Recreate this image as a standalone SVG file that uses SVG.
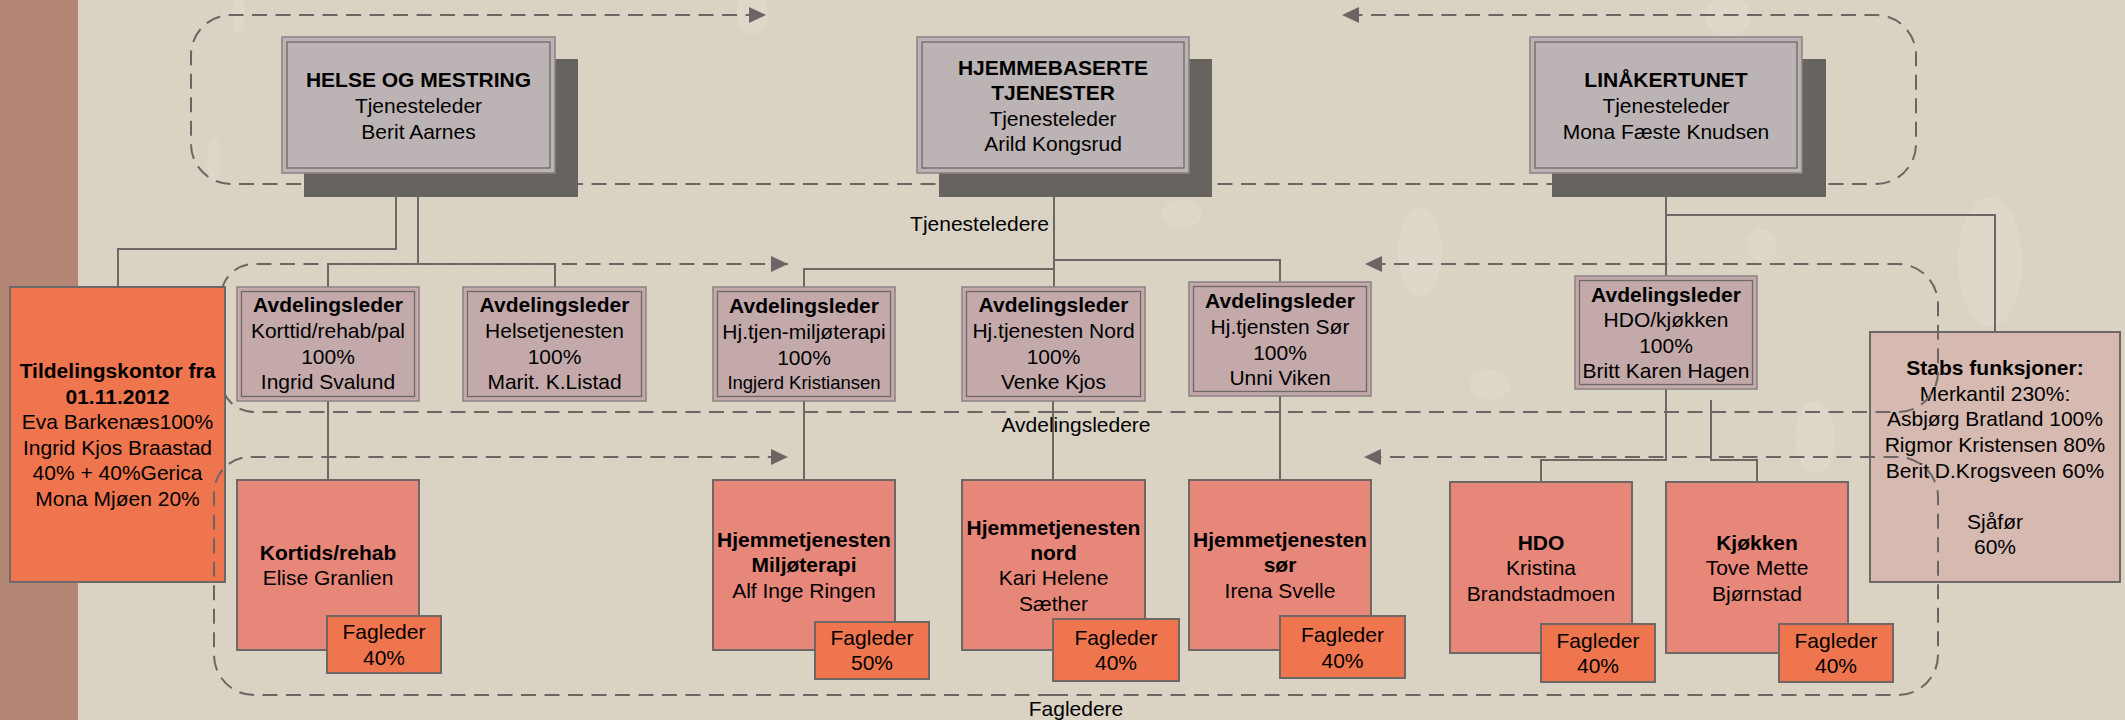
<svg xmlns="http://www.w3.org/2000/svg" width="2125" height="720" viewBox="0 0 2125 720">
<defs>
<style>
.t{font-family:"Liberation Sans",Arial,sans-serif;font-size:21px;text-anchor:middle;fill:#000}
.b{font-weight:bold}
.sm{font-size:18.5px}
.dash{fill:none;stroke:#6b6664;stroke-width:2;stroke-dasharray:15 8.5}
.con{fill:none;stroke:#6d6866;stroke-width:2}
.shadow{fill:#676361}
.topbox{fill:#bcb4b4;stroke:#8a8383;stroke-width:1.5}
.avdbox{fill:#c3a9a9;stroke:#8a8383;stroke-width:1.5}
.inner{fill:none;stroke:#6e6868;stroke-width:1.3}
.unit{fill:#e7877a;stroke:#6d6866;stroke-width:2}
.fag{fill:#ef754e;stroke:#6d6866;stroke-width:2}
.drop{fill:#efeae0;opacity:0.22}
</style>
<marker id="arr" markerUnits="userSpaceOnUse" markerWidth="18" markerHeight="17" refX="17" refY="8" orient="auto" viewBox="0 0 18 17">
<path d="M0,0 L17,8 L0,16 z" fill="#6b6664"/>
</marker>
</defs>

<rect x="0" y="0" width="2125" height="720" fill="#dad3c4"/>
<rect x="0" y="0" width="78" height="720" fill="#b38676"/>

<g id="background-drops">
<ellipse class="drop" cx="239" cy="14" rx="6" ry="20"/>
<ellipse class="drop" cx="752" cy="14" rx="16" ry="20"/>
<ellipse class="drop" cx="214" cy="160" rx="7" ry="22"/>
<ellipse class="drop" cx="1182" cy="214" rx="20" ry="14"/>
<ellipse class="drop" cx="1420" cy="252" rx="22" ry="45"/>
<ellipse class="drop" cx="1728" cy="16" rx="22" ry="20"/>
<ellipse class="drop" cx="1762" cy="245" rx="15" ry="16"/>
<ellipse class="drop" cx="1990" cy="262" rx="32" ry="65"/>
<ellipse class="drop" cx="1815" cy="437" rx="20" ry="36"/>
<ellipse class="drop" cx="1490" cy="385" rx="20" ry="15"/>
</g>

<g id="group-tjenesteledere-frame">
<path class="dash" d="M1053,184 H231 A40,40 0 0 1 191,144 V55 A40,40 0 0 1 231,15 H766" marker-end="url(#arr)"/>
<path class="dash" d="M1053,184 H1876 A40,40 0 0 0 1916,144 V55 A40,40 0 0 0 1876,15 H1342" marker-end="url(#arr)"/>
</g>

<g id="node-helse">
<rect class="shadow" x="304" y="59" width="274" height="138"/>
<rect class="topbox" x="282" y="37" width="273" height="136"/>
<rect class="inner" x="287" y="42" width="263" height="126"/>
<text class="t"><tspan class="b" x="418.5" y="87">HELSE OG MESTRING</tspan><tspan x="418.5" y="113">Tjenesteleder</tspan><tspan x="418.5" y="139">Berit Aarnes</tspan></text>
</g>

<g id="node-hjemmebaserte">
<rect class="shadow" x="939" y="59" width="273" height="138"/>
<rect class="topbox" x="917" y="37" width="272" height="136"/>
<rect class="inner" x="922" y="42" width="262" height="126"/>
<text class="t"><tspan class="b" x="1053" y="74.5">HJEMMEBASERTE</tspan><tspan class="b" x="1053" y="100">TJENESTER</tspan><tspan x="1053" y="125.5">Tjenesteleder</tspan><tspan x="1053" y="151">Arild Kongsrud</tspan></text>
</g>

<g id="node-linakertunet">
<rect class="shadow" x="1552" y="59" width="274" height="138"/>
<rect class="topbox" x="1530" y="37" width="272" height="136"/>
<rect class="inner" x="1535" y="42" width="262" height="126"/>
<text class="t"><tspan class="b" x="1666" y="87">LINÅKERTUNET</tspan><tspan x="1666" y="113">Tjenesteleder</tspan><tspan x="1666" y="139">Mona Fæste Knudsen</tspan></text>
</g>

<g id="connectors">
<path class="con" d="M396,197 V249 H118 V287"/>
<path class="con" d="M418,197 V264"/>
<path class="con" d="M328,287 V264 H555 V287"/>
<path class="con" d="M1054,197 V287"/>
<path class="con" d="M804,287 V269 H1054"/>
<path class="con" d="M1054,260 H1280 V282"/>
<path class="con" d="M1666,197 V276"/>
<path class="con" d="M1666,215 H1995 V332"/>
<path class="con" d="M328,401 V480"/>
<path class="con" d="M804,401 V480"/>
<path class="con" d="M1053,401 V480"/>
<path class="con" d="M1280,396 V480"/>
<path class="con" d="M1666,389 V460 H1541 V482"/>
<path class="con" d="M1711,400 V460 H1757 V482"/>
</g>

<g id="node-stabs">
<rect x="1870" y="332" width="250" height="250" fill="#d6b9b0" stroke="#6d6866" stroke-width="2"/>
<text class="t"><tspan class="b" x="1995" y="374.5">Stabs funksjoner:</tspan><tspan x="1995" y="400.5">Merkantil 230%:</tspan><tspan x="1995" y="425.5">Asbjørg Bratland 100%</tspan><tspan x="1995" y="451.5">Rigmor Kristensen 80%</tspan><tspan x="1995" y="477.5">Berit D.Krogsveen 60%</tspan><tspan x="1995" y="528.5">Sjåfør</tspan><tspan x="1995" y="553.5">60%</tspan></text>
</g>

<g id="group-avdelingsledere-frame">
<path class="dash" d="M1053,412 H254 A33,33 0 0 1 221,379 V297 A33,33 0 0 1 254,264 H788" marker-end="url(#arr)"/>
<path class="dash" d="M1053,412 H1898 A40,40 0 0 0 1938,372 V304 A40,40 0 0 0 1898,264 H1365" marker-end="url(#arr)"/>
</g>

<g id="node-avd-korttid">
<rect class="avdbox" x="237" y="287" width="182" height="114"/>
<rect class="inner" x="241.5" y="291.5" width="173" height="105"/>
<text class="t"><tspan class="b" x="328" y="312">Avdelingsleder</tspan><tspan x="328" y="338">Korttid/rehab/pal</tspan><tspan x="328" y="363.5">100%</tspan><tspan x="328" y="389">Ingrid Svalund</tspan></text>
</g>

<g id="node-avd-helsetjenesten">
<rect class="avdbox" x="463" y="287" width="183" height="114"/>
<rect class="inner" x="467.5" y="291.5" width="174" height="105"/>
<text class="t"><tspan class="b" x="554.5" y="312">Avdelingsleder</tspan><tspan x="554.5" y="338">Helsetjenesten</tspan><tspan x="554.5" y="363.5">100%</tspan><tspan x="554.5" y="389">Marit. K.Listad</tspan></text>
</g>

<g id="node-avd-miljoterapi">
<rect class="avdbox" x="713" y="287" width="182" height="114"/>
<rect class="inner" x="717.5" y="291.5" width="173" height="105"/>
<text class="t"><tspan class="b" x="804" y="313">Avdelingsleder</tspan><tspan x="804" y="339">Hj.tjen-miljøterapi</tspan><tspan x="804" y="364.5">100%</tspan><tspan class="sm" x="804" y="388.5">Ingjerd Kristiansen</tspan></text>
</g>

<g id="node-avd-nord">
<rect class="avdbox" x="962" y="287" width="183" height="114"/>
<rect class="inner" x="966.5" y="291.5" width="174" height="105"/>
<text class="t"><tspan class="b" x="1053.5" y="312">Avdelingsleder</tspan><tspan x="1053.5" y="338">Hj.tjenesten Nord</tspan><tspan x="1053.5" y="363.5">100%</tspan><tspan x="1053.5" y="389">Venke Kjos</tspan></text>
</g>

<g id="node-avd-sor">
<rect class="avdbox" x="1189" y="282" width="182" height="114"/>
<rect class="inner" x="1193.5" y="286.5" width="173" height="105"/>
<text class="t"><tspan class="b" x="1280" y="308">Avdelingsleder</tspan><tspan x="1280" y="334">Hj.tjensten Sør</tspan><tspan x="1280" y="359.5">100%</tspan><tspan x="1280" y="385">Unni Viken</tspan></text>
</g>

<g id="node-avd-hdo">
<rect class="avdbox" x="1575" y="276" width="182" height="113"/>
<rect class="inner" x="1579.5" y="280.5" width="173" height="104"/>
<text class="t"><tspan class="b" x="1666" y="301.5">Avdelingsleder</tspan><tspan x="1666" y="327">HDO/kjøkken</tspan><tspan x="1666" y="352.5">100%</tspan><tspan x="1666" y="378">Britt Karen Hagen</tspan></text>
</g>

<g id="node-tildelingskontor">
<rect x="10" y="287" width="215" height="295" fill="#ef754e" stroke="#6d6866" stroke-width="2"/>
<text class="t"><tspan class="b" x="117.5" y="377.5">Tildelingskontor fra</tspan><tspan class="b" x="117.5" y="403.5">01.11.2012</tspan><tspan x="117.5" y="428.5">Eva Barkenæs100%</tspan><tspan x="117.5" y="454.5">Ingrid Kjos Braastad</tspan><tspan x="117.5" y="479.5">40% + 40%Gerica</tspan><tspan x="117.5" y="505.5">Mona Mjøen 20%</tspan></text>
</g>

<g id="group-fagledere-frame">
<path class="dash" d="M1053,695 H254 A40,40 0 0 1 214,655 V493 A36,36 0 0 1 250,457 H788" marker-end="url(#arr)"/>
<path class="dash" d="M1053,695 H1898 A40,40 0 0 0 1938,655 V497 A40,40 0 0 0 1898,457 H1364" marker-end="url(#arr)"/>
</g>

<g id="node-kortids">
<rect class="unit" x="237" y="480" width="182" height="170"/>
<text class="t"><tspan class="b" x="328" y="559.5">Kortids/rehab</tspan><tspan x="328" y="584.5">Elise Granlien</tspan></text>
</g>
<g id="node-fag-kortids">
<rect class="fag" x="327" y="616" width="114" height="57"/>
<text class="t"><tspan x="384" y="638.5">Fagleder</tspan><tspan x="384" y="664.5">40%</tspan></text>
</g>

<g id="node-hj-miljoterapi">
<rect class="unit" x="713" y="480" width="182" height="170"/>
<text class="t"><tspan class="b" x="804" y="546.5">Hjemmetjenesten</tspan><tspan class="b" x="804" y="571.5">Miljøterapi</tspan><tspan x="804" y="597.5">Alf Inge Ringen</tspan></text>
</g>
<g id="node-fag-miljoterapi">
<rect class="fag" x="815" y="622" width="114" height="57"/>
<text class="t"><tspan x="872" y="644.5">Fagleder</tspan><tspan x="872" y="669.5">50%</tspan></text>
</g>

<g id="node-hj-nord">
<rect class="unit" x="962" y="480" width="183" height="170"/>
<text class="t"><tspan class="b" x="1053.5" y="534.5">Hjemmetjenesten</tspan><tspan class="b" x="1053.5" y="559.5">nord</tspan><tspan x="1053.5" y="584.5">Kari Helene</tspan><tspan x="1053.5" y="610.5">Sæther</tspan></text>
</g>
<g id="node-fag-nord">
<rect class="fag" x="1053" y="619" width="126" height="62"/>
<text class="t"><tspan x="1116" y="644.5">Fagleder</tspan><tspan x="1116" y="669.5">40%</tspan></text>
</g>

<g id="node-hj-sor">
<rect class="unit" x="1189" y="480" width="182" height="170"/>
<text class="t"><tspan class="b" x="1280" y="546.5">Hjemmetjenesten</tspan><tspan class="b" x="1280" y="571.5">sør</tspan><tspan x="1280" y="597.5">Irena Svelle</tspan></text>
</g>
<g id="node-fag-sor">
<rect class="fag" x="1280" y="616" width="125" height="62"/>
<text class="t"><tspan x="1342.5" y="641.5">Fagleder</tspan><tspan x="1342.5" y="667.5">40%</tspan></text>
</g>

<g id="node-hdo">
<rect class="unit" x="1450" y="482" width="182" height="171"/>
<text class="t"><tspan class="b" x="1541" y="549.5">HDO</tspan><tspan x="1541" y="574.5">Kristina</tspan><tspan x="1541" y="600.5">Brandstadmoen</tspan></text>
</g>
<g id="node-fag-hdo">
<rect class="fag" x="1541" y="624" width="114" height="58"/>
<text class="t"><tspan x="1598" y="647.5">Fagleder</tspan><tspan x="1598" y="672.5">40%</tspan></text>
</g>

<g id="node-kjokken">
<rect class="unit" x="1666" y="482" width="182" height="171"/>
<text class="t"><tspan class="b" x="1757" y="549.5">Kjøkken</tspan><tspan x="1757" y="574.5">Tove Mette</tspan><tspan x="1757" y="600.5">Bjørnstad</tspan></text>
</g>
<g id="node-fag-kjokken">
<rect class="fag" x="1779" y="624" width="114" height="58"/>
<text class="t"><tspan x="1836" y="647.5">Fagleder</tspan><tspan x="1836" y="672.5">40%</tspan></text>
</g>

<g id="labels">
<text class="t" x="1049" y="230.5" style="text-anchor:end">Tjenesteledere</text>
<text class="t" x="1076" y="431.5">Avdelingsledere</text>
<text class="t" x="1076" y="715.5">Fagledere</text>
</g>
</svg>
